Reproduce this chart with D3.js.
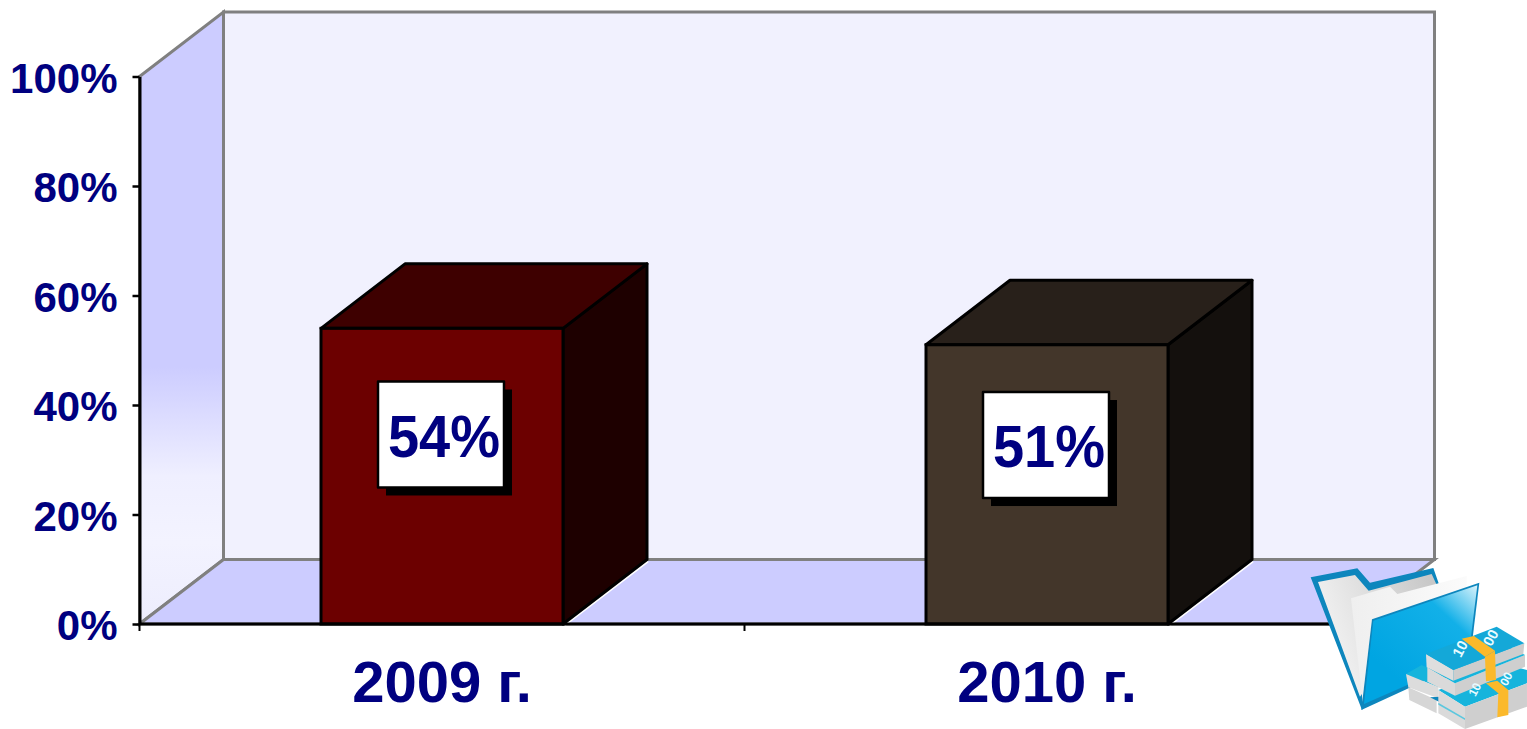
<!DOCTYPE html>
<html><head><meta charset="utf-8">
<script src="https://cdn.jsdelivr.net/npm/d3@7"></script>
<style>html,body{margin:0;padding:0;background:#fff;overflow:hidden}svg{display:block}
text{font-family:"Liberation Sans",Arial,sans-serif;font-weight:700;fill:#000080}</style>
</head><body><svg id="c" width="1527" height="729"></svg>
<script>
const categories = ["2009 г.", "2010 г."];
const values = [54, 51];
const frontColors = ["#6c0000", "#43362a"];
const topColors = ["#3e0000", "#28201a"];
const sideColors = ["#1e0000", "#14100d"];
const yTicks = [0, 20, 40, 60, 80, 100];

const svg = d3.select("#c");
const left = 139.5, right = 1349.5, bottom = 624, topY = 76.5, dx = 84, dy = -64.5;
const y = d3.scaleLinear().domain([0, 100]).range([bottom, topY]);
const x = d3.scaleBand().domain(categories).range([left, right]).paddingInner(0.6).paddingOuter(0.3);
const poly = pts => pts.map(p => p.join(",")).join(" ");

const defs = svg.append("defs");
const g = defs.append("linearGradient").attr("id", "wall").attr("gradientUnits", "userSpaceOnUse")
  .attr("x1", 0).attr("x2", 0).attr("y1", topY).attr("y2", bottom);
[[0, "#ccccff"], [0.53, "#ccccff"], [0.73, "#efefff"], [0.85, "#f3f3ff"], [1, "#ededfd"]]
  .forEach(s => g.append("stop").attr("offset", s[0]).attr("stop-color", s[1]));

// walls
svg.append("polygon").attr("points", poly([[left + dx, bottom + dy], [left + dx, topY + dy], [right + dx + 1, topY + dy], [right + dx + 1, bottom + dy]]))
  .attr("fill", "#f1f1fe").attr("stroke", "#808080").attr("stroke-width", 3);
svg.append("polygon").attr("points", poly([[left, bottom], [left, topY], [left + dx, topY + dy], [left + dx, bottom + dy]]))
  .attr("fill", "url(#wall)").attr("stroke", "#808080").attr("stroke-width", 3);
svg.append("polygon").attr("points", poly([[left, bottom], [left + dx, bottom + dy], [right + dx + 1, bottom + dy], [right + 1, bottom]]))
  .attr("fill", "#ccccff").attr("stroke", "#808080").attr("stroke-width", 3);

// axes
const yAxis = svg.append("g").attr("transform", `translate(${left},0)`)
  .call(d3.axisLeft(y).tickValues(yTicks).tickFormat(d => d + "%").tickSize(7).tickSizeOuter(0));
yAxis.selectAll("path").attr("stroke", "#000").attr("stroke-width", 3);
yAxis.selectAll("line").attr("stroke", "#000").attr("stroke-width", 2.5);
yAxis.selectAll("text").attr("font-size", 42).attr("x", -22).attr("dy", "0.37em").attr("fill", "#000080")
  .style("font-family", '"Liberation Sans",Arial,sans-serif').style("font-weight", 700);

// bars
const bars = svg.selectAll(".bar").data(categories).join("g").attr("class", "bar");
bars.each(function (c, i) {
  const b = d3.select(this), x0 = x(c), x1 = x0 + x.bandwidth(), yv = y(values[i]);
  b.append("line").attr("x1", x1 + 2).attr("y1", bottom + 1).attr("x2", x1 + dx + 1).attr("y2", bottom + dy + 2)
    .attr("stroke", "#fff").attr("stroke-width", 2);
  b.append("polygon").attr("points", poly([[x1, bottom], [x1, yv], [x1 + dx, yv + dy], [x1 + dx, bottom + dy]]))
    .attr("fill", sideColors[i]).attr("stroke", "#000").attr("stroke-width", 3).attr("stroke-linejoin", "round");
  b.append("polygon").attr("points", poly([[x0, yv], [x0 + dx, yv + dy], [x1 + dx, yv + dy], [x1, yv]]))
    .attr("fill", topColors[i]).attr("stroke", "#000").attr("stroke-width", 3).attr("stroke-linejoin", "round");
  b.append("rect").attr("x", x0).attr("y", yv).attr("width", x.bandwidth()).attr("height", bottom - yv)
    .attr("fill", frontColors[i]).attr("stroke", "#000").attr("stroke-width", 3);
});

// x axis
const xAxis = svg.append("g").attr("transform", `translate(0,${bottom})`)
  .call(d3.axisBottom(x).tickSize(0));
xAxis.select("path").remove();
xAxis.selectAll("text").attr("font-size", 58).attr("y", 78).attr("dy", 0).attr("fill", "#000080")
  .style("font-family", '"Liberation Sans",Arial,sans-serif').style("font-weight", 700);
svg.append("line").attr("x1", left).attr("x2", right + 1).attr("y1", bottom).attr("y2", bottom).attr("stroke", "#000").attr("stroke-width", 3);
[left, left + x.step(), right].forEach(t => svg.append("line").attr("x1", t).attr("x2", t).attr("y1", bottom).attr("y2", bottom + 7).attr("stroke", "#000").attr("stroke-width", 2));

// data labels
const labelW = 126, labelH = 106, shadow = 8;
const labels = svg.selectAll(".lab").data(categories).join("g").attr("class", "lab")
  .attr("transform", (c, i) => `translate(${x(c) + x.bandwidth() / 2 - 1},${y(values[i] * 0.641)})`);
labels.append("rect").attr("x", -labelW / 2 + shadow).attr("y", -labelH / 2 + shadow).attr("width", labelW).attr("height", labelH).attr("fill", "#000");
labels.append("rect").attr("x", -labelW / 2).attr("y", -labelH / 2).attr("width", labelW).attr("height", labelH).attr("fill", "#fff").attr("stroke", "#000").attr("stroke-width", 2.5).attr("stroke-linejoin", "round");
labels.append("text").attr("text-anchor", "middle").attr("dy", "0.37em").attr("font-size", 56).attr("transform", "translate(3,0) scale(1,1.07)")
  .text((c, i) => values[i] + "%");

// decorative folder-and-money picture
const icon = svg.append("g").attr("transform", "translate(1290,550) scale(0.3333)");
const ig = (id, stops, a) => { const l = defs.append("linearGradient").attr("id", id).attr("x1", a[0]).attr("y1", a[1]).attr("x2", a[2]).attr("y2", a[3]); stops.forEach(s => l.append("stop").attr("offset", s[0]).attr("stop-color", s[1])); };
ig("fBack", [[0, "#f6f6f6"], [1, "#c8c8c8"]], [0, 0.6, 1, 0.2]);
ig("fFront", [[0, "#00a5e2"], [0.65, "#12b0e8"], [1, "#d8f2fb"]], [0.3, 0.8, 1, 0]);
ig("fPaper", [[0, "#efefef"], [1, "#fbfbfb"]], [0, 0, 1, 0]);
const path = (d, f) => icon.append("path").attr("d", d).attr("fill", f);
path("M62 82L202 55L240 98L430 54L446 100L216 480Z", "#0d86bd");
path("M84 96L195 75L236 122L425 72L440 104L210 440Z", "url(#fBack)");
path("M183 145L300 110L322 132L530 78L530 130L218 455Z", "url(#fPaper)");
path("M246 208L568 98L540 330L214 480Z", "#0d86bd");
path("M250 212L562 106L535 325L222 462Z", "url(#fFront)");
// left small bundles
path("M355 412L440 450L440 490L358 450Z", "#d6d6d6");
path("M348 372L395 345L470 380L445 412Z", "#16b4dc");
path("M348 372L445 412L445 445L355 412Z", "#dcdcdc");
path("M420 442L450 440L448 456Z", "#0d86bd");
// lower right bundle
path("M445 420L655 345L711 360L711 400L525 470Z", "#16b4dc");
path("M445 420L525 470L525 537L445 490Z", "#dadada");
path("M525 470L711 400L711 470L525 537Z", "#cfcfcf");
path("M445 458L525 505L525 510L445 464Z", "#5cc7de");
// middle bundle
path("M412 352L495 400L495 437L412 395Z", "#dadada");
path("M495 400L705 315L705 350L495 437Z", "#cfcfcf");
path("M412 352L620 270L705 315L495 400Z", "#16b4dc");
// lower band
path("M588 400L622 392L655 420L655 495L622 502L625 430Z", "#fbb92b");
// top bundle
path("M408 312L410 352L490 392L490 360Z", "#dedede");
path("M490 360L703 280L700 312L490 392Z", "#cdcdcd");
path("M408 312L620 230L703 280L490 360Z", "#14a8d8");
// upper band
path("M515 266L552 258L615 302L585 320Z", "#fbb92b");
path("M585 320L615 302L618 390L588 394Z", "#fbb92b");
icon.append("text").text("10").attr("transform", "translate(512,325) rotate(-62)").attr("font-size", 44).style("fill", "#e8fbff");
icon.append("text").text("00").attr("transform", "translate(604,292) rotate(-62)").attr("font-size", 44).style("fill", "#e8fbff");
icon.append("text").text("10").attr("transform", "translate(556,442) rotate(-62)").attr("font-size", 36).style("fill", "#e8fbff");
icon.append("text").text("00").attr("transform", "translate(650,410) rotate(-62)").attr("font-size", 36).style("fill", "#e8fbff");
</script></body></html>
